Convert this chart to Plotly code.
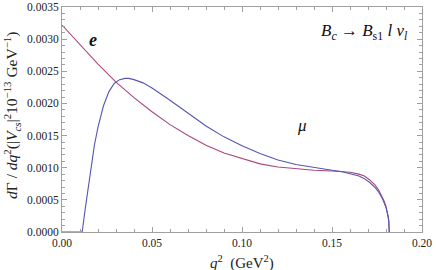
import plotly.graph_objects as go

# q^2 grid (GeV^2) and read-off dGamma/dq^2 values
q_e = [0.000, 0.010, 0.020, 0.030, 0.040, 0.050, 0.060, 0.070, 0.080, 0.090,
       0.100, 0.110, 0.120, 0.130, 0.140, 0.150, 0.155, 0.160, 0.165, 0.168,
       0.171, 0.174, 0.176, 0.178, 0.179, 0.180, 0.181, 0.1815, 0.1818]
rate_e = [0.00322, 0.00291, 0.00261, 0.00233, 0.00209, 0.00187, 0.00167, 0.00150,
          0.00135, 0.00123, 0.00114, 0.00106, 0.00101, 0.00098, 0.00096, 0.00095,
          0.00094, 0.00093, 0.00090, 0.00087, 0.00081, 0.00073, 0.00065, 0.00055,
          0.00048, 0.00040, 0.00029, 0.00019, 0.0]

q_mu = [0.000, 0.0112, 0.013, 0.015, 0.018, 0.020, 0.023, 0.026, 0.029, 0.032,
        0.035, 0.037, 0.040, 0.045, 0.050, 0.060, 0.070, 0.080, 0.090, 0.100,
        0.110, 0.120, 0.130, 0.140, 0.150, 0.155, 0.160, 0.165, 0.168, 0.171,
        0.174, 0.176, 0.178, 0.179, 0.180, 0.181, 0.1815, 0.1818]
rate_mu = [0.0, 0.0, 0.00038, 0.00078, 0.00135, 0.00163, 0.00196, 0.00218, 0.00231,
           0.00237, 0.00239, 0.00239, 0.00237, 0.00232, 0.00224, 0.00205, 0.00185,
           0.00165, 0.00148, 0.00134, 0.00122, 0.00112, 0.00105, 0.00100, 0.00096,
           0.00094, 0.00091, 0.00087, 0.00083, 0.00077, 0.00069, 0.00062, 0.00052,
           0.00046, 0.00038, 0.00027, 0.00018, 0.0]

E_COLOR = "#a8487e"
MU_COLOR = "#5656b4"
FONT = "Liberation Serif, Times New Roman, serif"
FRAME = "#a0a0a0"

fig = go.Figure()
fig.add_trace(go.Scatter(x=q_e, y=rate_e, mode="lines",
                         line=dict(color=E_COLOR, width=1.1), showlegend=False))
fig.add_trace(go.Scatter(x=q_mu, y=rate_mu, mode="lines",
                         line=dict(color=MU_COLOR, width=1.1), showlegend=False))

axis_common = dict(showline=True, linecolor=FRAME, linewidth=1, mirror="allticks",
                   ticks="inside", ticklen=5, tickcolor=FRAME, showgrid=False,
                   zeroline=False, automargin=False,
                   tickfont=dict(family=FONT, size=11.5, color="#222"))

fig.update_xaxes(range=[0, 0.2], dtick=0.05, tickformat=".2f",
                 minor=dict(dtick=0.01, ticks="inside", ticklen=3, tickcolor=FRAME),
                 **axis_common)
fig.update_yaxes(range=[0, 0.0035], dtick=0.0005, tickformat=".4f",
                 minor=dict(dtick=0.0001, ticks="inside", ticklen=3, tickcolor=FRAME),
                 **axis_common)

# axis titles placed as annotations for exact positioning
fig.add_annotation(xref="paper", yref="paper", x=-0.139, y=0.52, textangle=-90,
                   xanchor="center", yanchor="middle",
                   text="<i>d</i>Γ / <i>dq</i><sup>2</sup>(|<i>V<sub>cs</sub></i>|<sup>2</sup>10<sup>−13</sup> GeV<sup>−1</sup>)",
                   showarrow=False, font=dict(family=FONT, size=15.5, color="#222"))
fig.add_annotation(xref="paper", yref="paper", x=0.5, y=-0.135,
                   xanchor="center", yanchor="middle",
                   text="<i>q</i><sup>2</sup>  (GeV<sup>2</sup>)",
                   showarrow=False, font=dict(family=FONT, size=15, color="#222"))

fig.add_annotation(x=0.0172, y=0.00299, text="<b><i>e</i></b>", showarrow=False,
                   font=dict(family=FONT, size=18, color="#111"))
fig.add_annotation(x=0.1333, y=0.00165, text="<i>μ</i>", showarrow=False,
                   font=dict(family=FONT, size=17, color="#111"))
fig.add_annotation(x=0.1935, y=0.00311, xanchor="right",
                   text="<i>B<sub>c</sub></i> → <i>B</i><sub>s1</sub> <i>l</i> <i>ν<sub>l</sub></i>",
                   showarrow=False, font=dict(family=FONT, size=17, color="#111"))

fig.update_layout(width=436, height=270, margin=dict(l=62, r=14, t=7, b=38),
                  paper_bgcolor="white", plot_bgcolor="white")

# drop the browser's default page margin so the figure sits at the window origin
fig.write_html("out.html", config={"displayModeBar": False},
               post_script="document.body.style.margin='0';")
